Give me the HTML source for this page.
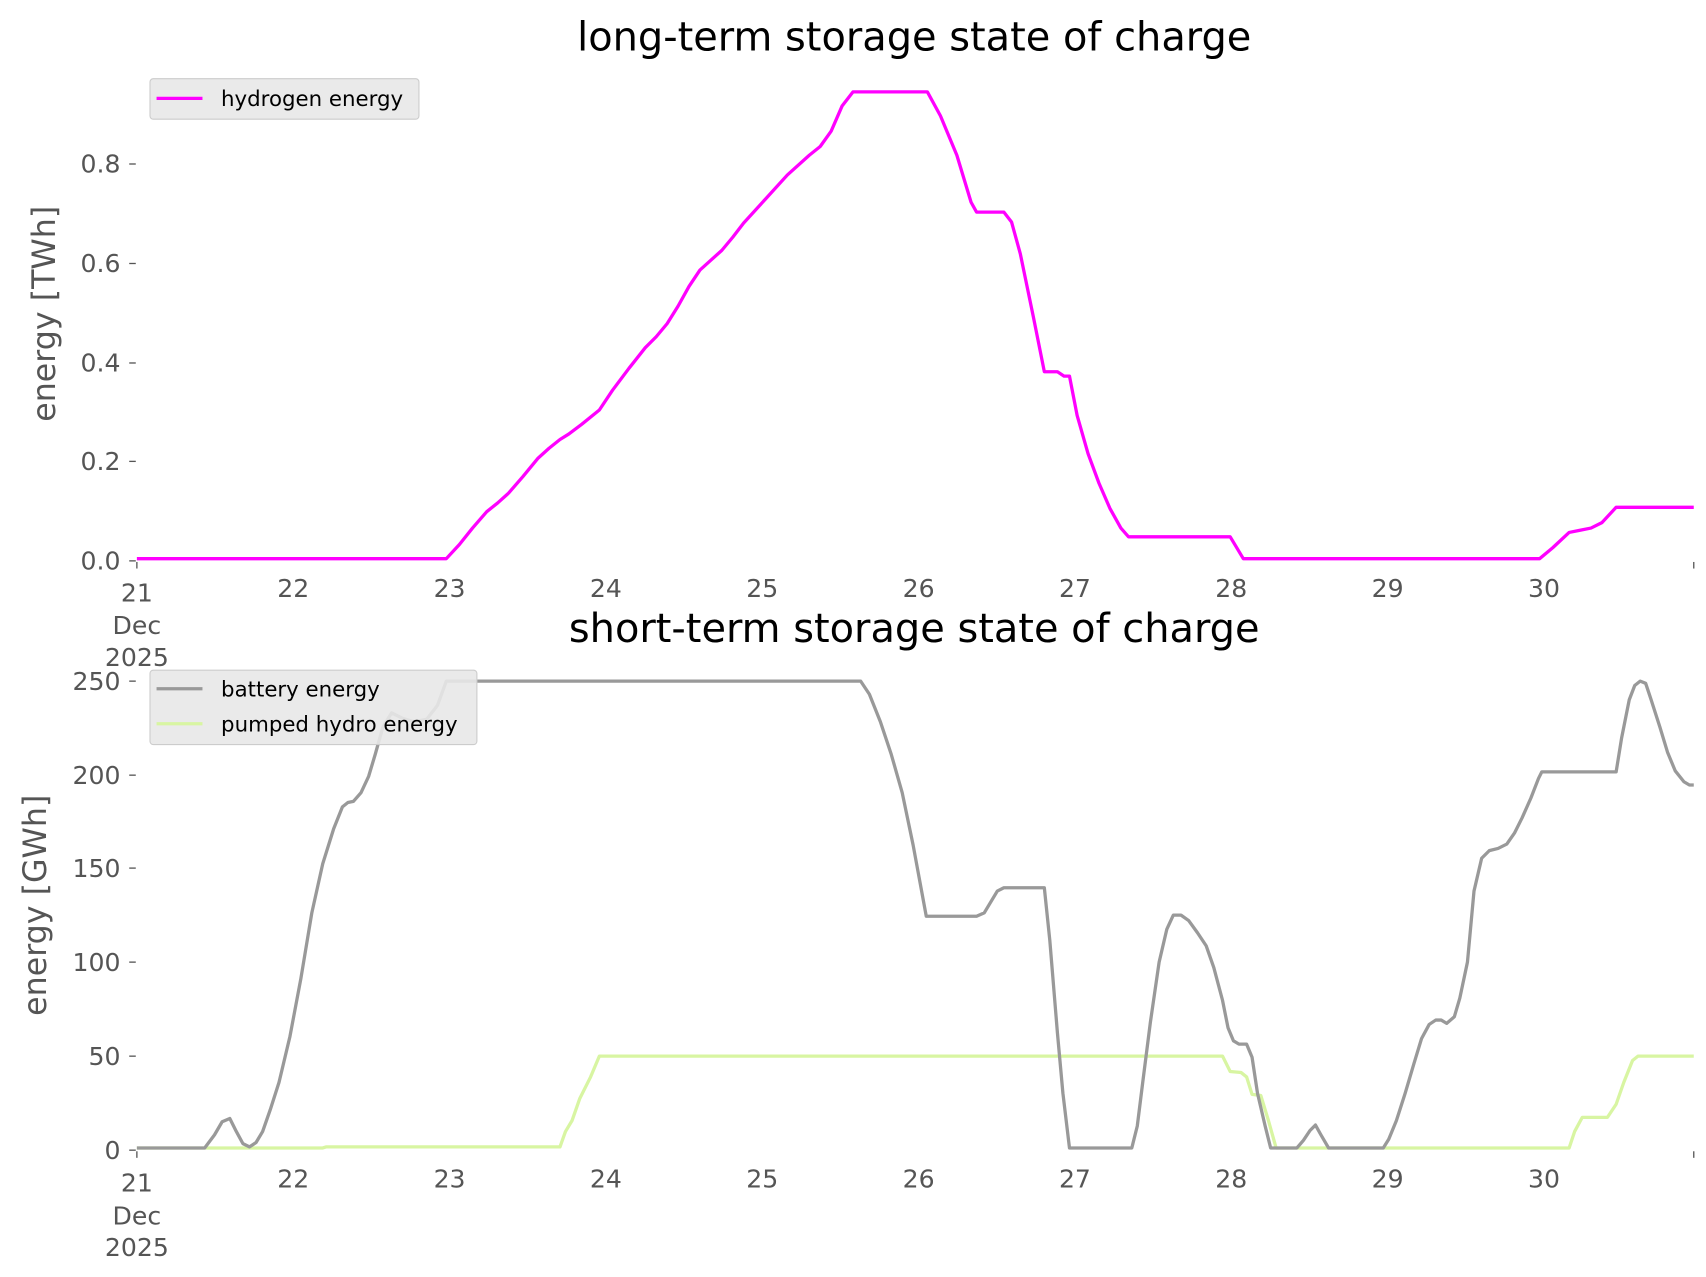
<!DOCTYPE html><html><head><style>html,body{margin:0;padding:0;background:#fff}svg{display:block}</style></head><body>
<svg width="1706" height="1277" viewBox="0 0 1560 1168" xmlns="http://www.w3.org/2000/svg" font-family="'DejaVu Sans','Liberation Sans',sans-serif">
<rect width="1560" height="1168" fill="#fff"/>
<g fill="#000" font-size="36.5" text-anchor="middle">
<text x="836" y="46">long-term storage state of charge</text>
<text x="836" y="587">short-term storage state of charge</text>
</g>
<g fill="#555" font-size="29" text-anchor="middle">
<text transform="translate(50,287) rotate(-90)">energy [TWh]</text>
<text transform="translate(42,828) rotate(-90)">energy [GWh]</text>
</g>
<g stroke="#555" stroke-width="1.2">
<line x1="118" y1="513" x2="124" y2="513"/><line x1="118" y1="422" x2="124" y2="422"/><line x1="118" y1="332" x2="124" y2="332"/><line x1="118" y1="241" x2="124" y2="241"/><line x1="118" y1="150" x2="124" y2="150"/>
<line x1="118" y1="1052" x2="124" y2="1052"/><line x1="118" y1="966" x2="124" y2="966"/><line x1="118" y1="880" x2="124" y2="880"/><line x1="118" y1="794" x2="124" y2="794"/><line x1="118" y1="709" x2="124" y2="709"/><line x1="118" y1="623" x2="124" y2="623"/>
<line x1="125" y1="514" x2="125" y2="520"/><line x1="1549" y1="514" x2="1549" y2="520"/>
<line x1="125" y1="1053" x2="125" y2="1059"/><line x1="1549" y1="1053" x2="1549" y2="1059"/>
</g>
<g fill="#555" font-size="23" text-anchor="end">
<text x="110" y="521">0.0</text><text x="110" y="430">0.2</text><text x="110" y="340">0.4</text><text x="110" y="249">0.6</text><text x="110" y="158">0.8</text>
<text x="110" y="1060">0</text><text x="110" y="974">50</text><text x="110" y="888">100</text><text x="110" y="802">150</text><text x="110" y="717">200</text><text x="110" y="631">250</text>
</g>
<g fill="#555" font-size="23" text-anchor="middle">
<text x="125" y="550">21</text><text x="125" y="580">Dec</text><text x="125" y="609">2025</text>
<text x="268" y="546">22</text><text x="411" y="546">23</text><text x="554" y="546">24</text><text x="697" y="546">25</text><text x="840" y="546">26</text><text x="983" y="546">27</text><text x="1126" y="546">28</text><text x="1269" y="546">29</text><text x="1412" y="546">30</text>
<text x="125" y="1090">21</text><text x="125" y="1120">Dec</text><text x="125" y="1149">2025</text>
<text x="268" y="1086">22</text><text x="411" y="1086">23</text><text x="554" y="1086">24</text><text x="697" y="1086">25</text><text x="840" y="1086">26</text><text x="983" y="1086">27</text><text x="1126" y="1086">28</text><text x="1269" y="1086">29</text><text x="1412" y="1086">30</text>
</g>
<polyline fill="none" stroke="#ff00ff" stroke-width="3" stroke-linejoin="round" points="125,511 408,511 420,498 432,483 445,468 455,460 465,451 478,436 492,419 502,410 512,402 520,397 532,388 548,375 560,357 575,337 590,318 600,308 610,296 620,280 630,262 640,247 650,238 660,229 670,217 680,204 700,182 720,160 740,142 750,134 760,120 770,97 780,84 848,84 860,106 875,142 888,185 893,194 918,194 925,203 933,232 945,290 955,340 967,340 973,344 978,344 985,380 995,415 1005,442 1015,465 1025,483 1032,491 1125,491 1137,511 1408,511 1420,501 1435,487 1445,485 1455,483 1465,478 1478,464 1549,464"/>
<polyline fill="none" stroke="#d8f5a2" stroke-width="3" stroke-linejoin="round" points="125,1050 295,1050 298,1049 512,1049 517,1035 523,1025 530,1005 540,985 548,966 1118,966 1125,980 1135,981 1140,985 1145,1001 1153,1002 1160,1025 1167,1050 1435,1050 1440,1035 1447,1022 1470,1022 1478,1010 1485,990 1493,970 1498,966 1549,966"/>
<polyline fill="none" stroke="#999" stroke-width="3" stroke-linejoin="round" points="125,1050 187,1050 196,1038 203,1026 210,1023 216,1035 222,1046 228,1049 234,1045 240,1035 247,1015 255,990 265,948 275,895 285,835 295,790 305,758 313,738 318,734 323,733 330,725 337,710 343,690 350,665 358,652 368,657 378,660 390,658 400,645 408,623 787,623 795,635 805,660 815,690 825,725 835,773 847,838 893,838 900,835 912,815 918,812 955,812 960,860 967,945 972,1000 978,1050 1035,1050 1040,1030 1045,990 1052,935 1060,880 1067,850 1073,837 1080,837 1087,842 1095,853 1103,865 1110,885 1118,915 1123,940 1128,952 1133,955 1140,955 1145,967 1150,1000 1157,1030 1162,1050 1186,1050 1192,1043 1198,1034 1203,1029 1208,1038 1215,1050 1265,1050 1270,1042 1277,1025 1285,1000 1293,973 1300,950 1307,937 1313,933 1318,933 1323,936 1330,930 1335,913 1342,880 1348,815 1355,785 1362,778 1370,776 1378,772 1385,762 1392,748 1400,730 1407,712 1410,706 1478,706 1483,675 1490,640 1495,627 1500,623 1505,625 1510,640 1518,665 1525,688 1532,705 1540,715 1545,718 1549,718"/>
<rect x="137" y="72" width="246" height="37" rx="3" fill="#e8e8e8" fill-opacity="0.9" stroke="#ccc"/>
<line x1="143" y1="90" x2="185" y2="90" stroke="#ff00ff" stroke-width="3"/>
<text x="202" y="97" font-size="19.5" fill="#000">hydrogen energy</text>
<rect x="137" y="613" width="299" height="68" rx="3" fill="#e8e8e8" fill-opacity="0.9" stroke="#ccc"/>
<line x1="143" y1="630" x2="185" y2="630" stroke="#999" stroke-width="3"/>
<text x="202" y="637" font-size="19.5" fill="#000">battery energy</text>
<line x1="143" y1="662" x2="185" y2="662" stroke="#d8f5a2" stroke-width="3"/>
<text x="202" y="669" font-size="19.5" fill="#000">pumped hydro energy</text>
</svg>
</body></html>
